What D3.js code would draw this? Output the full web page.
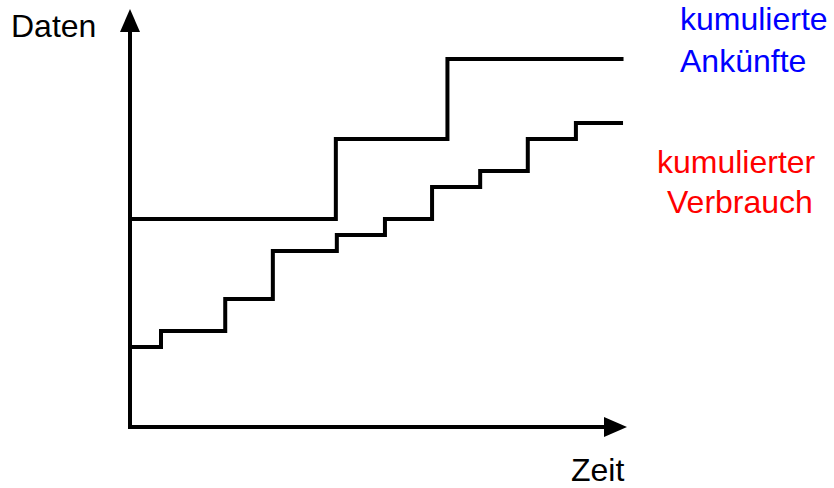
<!DOCTYPE html>
<html>
<head>
<meta charset="utf-8">
<script src="https://cdn.jsdelivr.net/npm/d3@7"></script>
<style>
  body { margin: 0; background: #fff; }
  text { font-family: Arial, "Liberation Sans", sans-serif; font-size: 32px; }
</style>
</head>
<body>
<script>
// step points (time 0..100, data 0..100)
const arrivalTimes = [0, 41.5, 64, 99.5];
const arrivalValues = [52, 72, 92, 92];
const usageTimes = [0, 6.25, 19.2, 28.8, 41.7, 51.4, 60.9, 70.6, 80.2, 89.9, 99.4];
const usageValues = [20, 24, 32, 44, 48, 52, 60, 64, 72, 76, 76];

const width = 834, height = 488;

const svg = d3.select("body").append("svg")
  .attr("width", width)
  .attr("height", height);

const x = d3.scaleLinear().domain([0, 100]).range([130, 626]);
const y = d3.scaleLinear().domain([0, 100]).range([427, 27]);

// axes with arrow heads
const axes = svg.append("g");
axes.append("line")
  .attr("x1", x(0)).attr("y1", y(0) + 2)
  .attr("x2", x(0)).attr("y2", 30)
  .attr("stroke", "#000").attr("stroke-width", 4);
axes.append("path")
  .attr("d", `M${x(0)},9 L${x(0) - 10},32 L${x(0) + 10},32 Z`)
  .attr("fill", "#000");
axes.append("line")
  .attr("x1", x(0) - 2).attr("y1", y(0))
  .attr("x2", 606).attr("y2", y(0))
  .attr("stroke", "#000").attr("stroke-width", 4);
axes.append("path")
  .attr("d", `M627,${y(0)} L604,${y(0) - 10} L604,${y(0) + 10} Z`)
  .attr("fill", "#000");

// the two staircases
const step = d3.line()
  .x(d => x(d[0]))
  .y(d => y(d[1]))
  .curve(d3.curveStepAfter);

svg.append("path")
  .datum(d3.zip(arrivalTimes, arrivalValues))
  .attr("d", step)
  .attr("fill", "none").attr("stroke", "#000").attr("stroke-width", 4);

svg.append("path")
  .datum(d3.zip(usageTimes, usageValues))
  .attr("d", step)
  .attr("fill", "none").attr("stroke", "#000").attr("stroke-width", 4);

// labels
svg.append("text").attr("x", 11).attr("y", 37).text("Daten");
svg.append("text").attr("x", 571).attr("y", 481).text("Zeit");

svg.append("text").attr("x", 680).attr("y", 30).attr("fill", "#0000ff").text("kumulierte");
svg.append("text").attr("x", 680).attr("y", 72).attr("fill", "#0000ff").text("Ankünfte");
svg.append("text").attr("x", 657).attr("y", 173).attr("fill", "#ff0000").text("kumulierter");
svg.append("text").attr("x", 667).attr("y", 213).attr("fill", "#ff0000").text("Verbrauch");
</script>
</body>
</html>
